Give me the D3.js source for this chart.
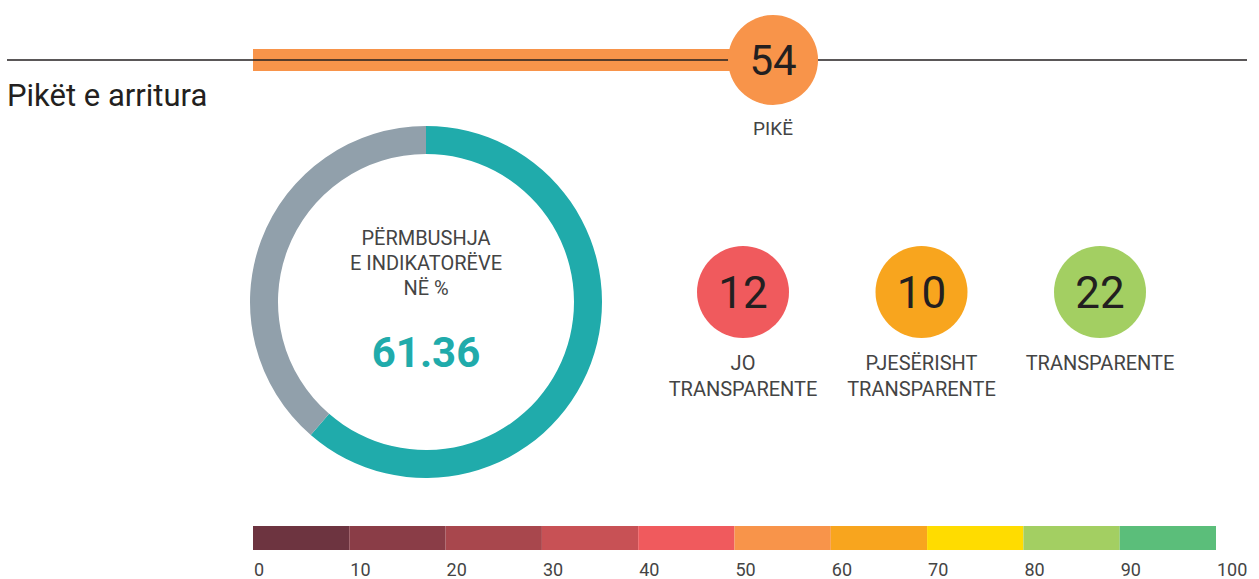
<!DOCTYPE html>
<html>
<head>
<meta charset="utf-8">
<script src="https://cdn.jsdelivr.net/npm/d3@7"></script>
<style>
  body { margin: 0; background: #fff; }
  text { font-family: Roboto, "Noto Sans", sans-serif; }
</style>
</head>
<body>
<div id="chart"></div>
<script>
// data
const score = 54;
const compliance = 61.36;
const counts = [12, 10, 22];
const countLabels = [["JO", "TRANSPARENTE"], ["PJESËRISHT", "TRANSPARENTE"], ["TRANSPARENTE"]];
const countColors = ["#f05a5d", "#f8a51e", "#a3cf62"];
const scaleTicks = [0, 10, 20, 30, 40, 50, 60, 70, 80, 90, 100];
const scaleColors = ["#6d3440", "#8a3d47", "#a8474d", "#c85155", "#f05a5d",
                     "#f8944a", "#f8a51e", "#ffdc00", "#a3cf62", "#5bbe7a"];

const width = 1259, height = 579;

const svg = d3.select("#chart").append("svg")
    .attr("width", width)
    .attr("height", height);

// scale used for both the top bar and the bottom colour scale
const x = d3.scaleLinear().domain([0, 100]).range([253, 1216]);

// top rule
svg.append("line")
    .attr("x1", 7).attr("x2", 1247)
    .attr("y1", 60).attr("y2", 60)
    .attr("stroke", "#231f20")
    .attr("stroke-width", 1.3);

// score bar
svg.append("rect")
    .attr("x", x(0))
    .attr("y", 49)
    .attr("width", x(score) - x(0))
    .attr("height", 22)
    .attr("fill", "#f8944a");

svg.append("line")
    .attr("x1", x(0)).attr("x2", x(score))
    .attr("y1", 60).attr("y2", 60)
    .attr("stroke", "#231f20")
    .attr("stroke-width", 1.3);

svg.append("circle")
    .attr("cx", x(score))
    .attr("cy", 60)
    .attr("r", 45)
    .attr("fill", "#f8944a");

svg.append("text")
    .attr("x", x(score))
    .attr("y", 75)
    .attr("text-anchor", "middle")
    .attr("font-size", "42px")
    .attr("fill", "#231f20")
    .text(score);

svg.append("text")
    .attr("x", x(score))
    .attr("y", 135)
    .attr("text-anchor", "middle")
    .attr("font-size", "19px")
    .attr("fill", "#444")
    .text("PIKË");

// title
svg.append("text")
    .attr("x", 7)
    .attr("y", 106)
    .attr("font-size", "31px")
    .attr("fill", "#231f20")
    .text("Pikët e arritura");

// donut
const donut = svg.append("g").attr("transform", "translate(426,302)");
const pie = d3.pie().sort(null).value(d => d);
const arc = d3.arc().innerRadius(148).outerRadius(176);
donut.selectAll("path")
    .data(pie([compliance, 100 - compliance]))
    .join("path")
    .attr("d", arc)
    .attr("fill", (d, i) => i === 0 ? "#20abab" : "#91a0ab");

donut.selectAll(".lbl")
    .data(["PËRMBUSHJA", "E INDIKATORËVE", "NË %"])
    .join("text")
    .attr("class", "lbl")
    .attr("x", 0)
    .attr("y", (d, i) => -57 + i * 25)
    .attr("text-anchor", "middle")
    .attr("font-size", "20px")
    .attr("fill", "#444")
    .text(d => d);

donut.append("text")
    .attr("x", 0)
    .attr("y", 65)
    .attr("text-anchor", "middle")
    .attr("font-size", "42px")
    .attr("font-weight", "bold")
    .attr("fill", "#20abab")
    .text(compliance.toFixed(2));

// count circles
const cx = d3.scalePoint().domain(d3.range(counts.length)).range([743, 1100]);
const groups = svg.selectAll(".count")
    .data(counts)
    .join("g")
    .attr("class", "count")
    .attr("transform", (d, i) => `translate(${cx(i)},292)`);

groups.append("circle")
    .attr("r", 46)
    .attr("fill", (d, i) => countColors[i]);

groups.append("text")
    .attr("y", 16)
    .attr("text-anchor", "middle")
    .attr("font-size", "44px")
    .attr("fill", "#231f20")
    .text(d => d);

groups.each(function(d, i) {
  d3.select(this).selectAll(".cl")
    .data(countLabels[i])
    .join("text")
    .attr("class", "cl")
    .attr("y", (t, j) => 78 + j * 26)
    .attr("text-anchor", "middle")
    .attr("font-size", "20px")
    .attr("fill", "#444")
    .text(t => t);
});

// colour scale
svg.selectAll(".seg")
    .data(scaleColors)
    .join("rect")
    .attr("class", "seg")
    .attr("x", (d, i) => x(scaleTicks[i]))
    .attr("y", 526)
    .attr("width", (d, i) => x(scaleTicks[i + 1]) - x(scaleTicks[i]))
    .attr("height", 24)
    .attr("fill", d => d);

svg.selectAll(".tick")
    .data(scaleTicks)
    .join("text")
    .attr("class", "tick")
    .attr("x", d => x(d) + 1)
    .attr("y", 576)
    .attr("font-size", "18px")
    .attr("fill", "#444")
    .text(d => d);
</script>
</body>
</html>
